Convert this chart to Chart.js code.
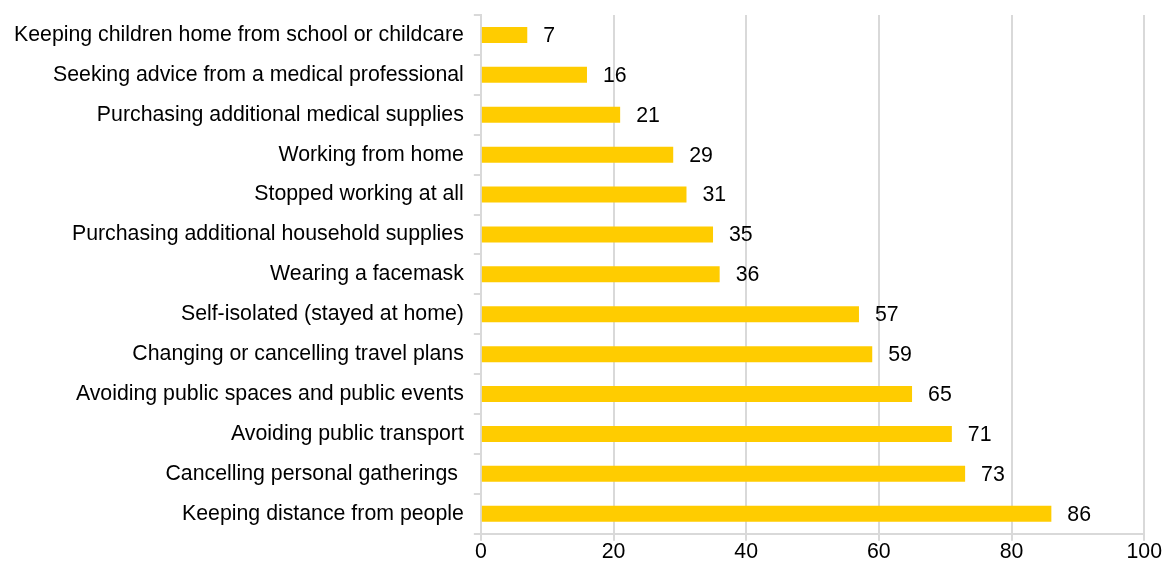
<!DOCTYPE html>
<html>
<head>
<meta charset="utf-8">
<script src="https://cdn.jsdelivr.net/npm/chart.js@4.4.1/dist/chart.umd.min.js"></script>
<style>
  html, body { margin: 0; padding: 0; background: #fff; }
  #wrap { width: 1163px; height: 567px; }
</style>
</head>
<body>
<div id="wrap"><canvas id="chart"></canvas></div>
<script>
const categories = [
  'Keeping children home from school or childcare',
  'Seeking advice from a medical professional',
  'Purchasing additional medical supplies',
  'Working from home',
  'Stopped working at all',
  'Purchasing additional household supplies',
  'Wearing a facemask',
  'Self-isolated (stayed at home)',
  'Changing or cancelling travel plans',
  'Avoiding public spaces and public events',
  'Avoiding public transport',
  'Cancelling personal gatherings ',
  'Keeping distance from people'
];
const values = [7, 16, 21, 29, 31, 35, 36, 57, 59, 65, 71, 73, 86];
const xTicks = [0, 20, 40, 60, 80, 100];

const FONT = 'Arial, "Liberation Sans", sans-serif';
const FONT_SIZE = 21.3;

// Value labels drawn just past the end of each bar
const valueLabels = {
  id: 'valueLabels',
  afterDatasetsDraw(chart) {
    const ctx = chart.ctx;
    const meta = chart.getDatasetMeta(0);
    ctx.save();
    ctx.font = FONT_SIZE + 'px ' + FONT;
    ctx.fillStyle = '#000';
    ctx.textAlign = 'left';
    ctx.textBaseline = 'middle';
    meta.data.forEach((bar, i) => {
      ctx.fillText(String(values[i]), bar.x + 16, bar.y + 1);
    });
    ctx.restore();
  }
};

new Chart(document.getElementById('chart'), {
  type: 'bar',
  data: {
    labels: categories,
    datasets: [{
      data: values,
      backgroundColor: '#FFCC00',
      borderWidth: 0,
      barPercentage: 0.4,
      categoryPercentage: 1.0
    }]
  },
  plugins: [valueLabels],
  options: {
    indexAxis: 'y',
    responsive: true,
    maintainAspectRatio: false,
    animation: false,
    layout: { padding: { top: 15, right: 13, left: 4, bottom: 3 } },
    plugins: {
      legend: { display: false },
      tooltip: { enabled: false }
    },
    scales: {
      x: {
        min: 0,
        max: 100,
        afterBuildTicks: (axis) => { axis.ticks = xTicks.map(v => ({ value: v })); },
        border: { color: '#d9d9d9', width: 2 },
        grid: {
          color: '#d9d9d9',
          lineWidth: 2,
          tickLength: 7,
          drawTicks: true
        },
        ticks: {
          color: '#000',
          padding: 1,
          font: { family: FONT, size: FONT_SIZE, lineHeight: 1 }
        }
      },
      y: {
        offset: true,
        // labels sit inside their bands, so no extra room above/below is needed
        afterFit: (axis) => { axis.paddingTop = 0; axis.paddingBottom = 0; },
        border: { color: '#d9d9d9', width: 2 },
        grid: {
          offset: true,
          color: '#d9d9d9',
          lineWidth: 2,
          drawOnChartArea: false,
          tickLength: 7
        },
        ticks: {
          color: '#000',
          padding: 10,
          autoSkip: false,
          font: { family: FONT, size: FONT_SIZE }
        }
      }
    }
  }
});
</script>
</body>
</html>
